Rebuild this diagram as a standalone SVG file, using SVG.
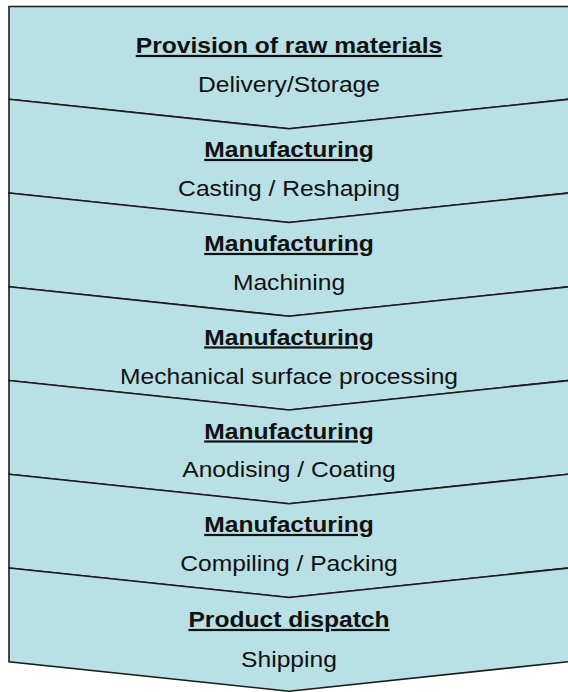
<svg xmlns="http://www.w3.org/2000/svg" width="568" height="692" viewBox="0 0 568 692">
<style>
.band{fill:#B9E0E4;stroke:#1c1c1c;stroke-width:1.6;stroke-linejoin:miter}
.h{font-family:"Liberation Sans",Arial,sans-serif;font-size:22px;font-weight:bold;text-anchor:middle;fill:#111;text-decoration:underline}
.s{font-family:"Liberation Sans",Arial,sans-serif;font-size:22px;text-anchor:middle;fill:#111}
</style>
<rect width="568" height="692" fill="#ffffff"/>
<g id="band1">
<path class="band" d="M9,6.5 H569 V99.3 L289,128.8 L9,99.3 Z"/>
<text class="h" transform="translate(289 53) scale(1.12 1)">Provision of raw materials</text>
<text class="s" transform="translate(289 92) scale(1.12 1)">Delivery/Storage</text>
</g>
<g id="band2">
<path class="band" d="M9,99.3 L289,128.8 L569,99.3 V193 L289,222.5 L9,193 Z"/>
<text class="h" transform="translate(289 157) scale(1.12 1)">Manufacturing</text>
<text class="s" transform="translate(289 196) scale(1.12 1)">Casting / Reshaping</text>
</g>
<g id="band3">
<path class="band" d="M9,193 L289,222.5 L569,193 V286.8 L289,316.3 L9,286.8 Z"/>
<text class="h" transform="translate(289 251) scale(1.12 1)">Manufacturing</text>
<text class="s" transform="translate(289 289.5) scale(1.12 1)">Machining</text>
</g>
<g id="band4">
<path class="band" d="M9,286.8 L289,316.3 L569,286.8 V380.5 L289,410 L9,380.5 Z"/>
<text class="h" transform="translate(289 344.5) scale(1.12 1)">Manufacturing</text>
<text class="s" transform="translate(289 383.5) scale(1.12 1)">Mechanical surface processing</text>
</g>
<g id="band5">
<path class="band" d="M9,380.5 L289,410 L569,380.5 V474.2 L289,503.7 L9,474.2 Z"/>
<text class="h" transform="translate(289 438.5) scale(1.12 1)">Manufacturing</text>
<text class="s" transform="translate(289 477) scale(1.12 1)">Anodising / Coating</text>
</g>
<g id="band6">
<path class="band" d="M9,474.2 L289,503.7 L569,474.2 V568 L289,597.5 L9,568 Z"/>
<text class="h" transform="translate(289 532) scale(1.12 1)">Manufacturing</text>
<text class="s" transform="translate(289 571) scale(1.12 1)">Compiling / Packing</text>
</g>
<g id="band7">
<path class="band" d="M9,568 L289,597.5 L569,568 V661.7 L289,691.2 L9,661.7 Z"/>
<text class="h" transform="translate(289 627) scale(1.12 1)">Product dispatch</text>
<text class="s" transform="translate(289 667) scale(1.12 1)">Shipping</text>
</g>
<g id="connectors"/>
</svg>
